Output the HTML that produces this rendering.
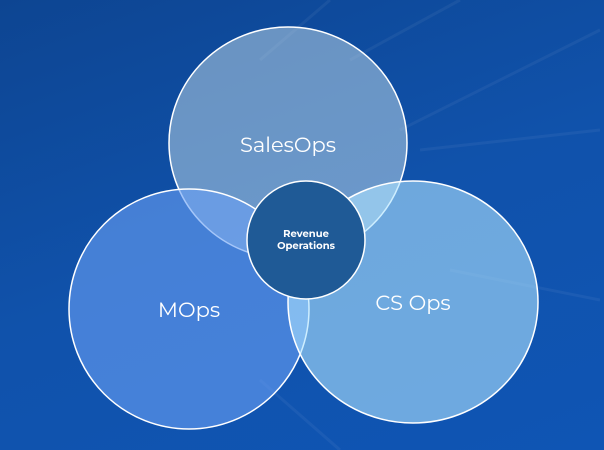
<!DOCTYPE html>
<html><head><style>
html,body{margin:0;padding:0;width:604px;height:450px;overflow:hidden}
body{background:linear-gradient(160deg,#0d4592 0%,#1052ab 50%,#0f55b4 100%)}
</style></head><body>
<svg width="604" height="450" xmlns="http://www.w3.org/2000/svg" style="position:absolute;left:0;top:0">
<g stroke="#ffffff" stroke-opacity="0.05" stroke-width="3">
<line x1="400" y1="130" x2="600" y2="30"/><line x1="420" y1="150" x2="600" y2="130"/>
<line x1="450" y1="270" x2="600" y2="300"/><line x1="260" y1="60" x2="330" y2="0"/>
<line x1="350" y1="60" x2="460" y2="0"/><line x1="260" y1="380" x2="340" y2="450"/>
</g>
<g font-family="Montserrat, 'Liberation Sans', sans-serif" fill="#fff" text-anchor="middle">
<ellipse cx="288" cy="143" rx="119" ry="116" fill="rgb(198,222,234)" fill-opacity="0.5" stroke="#fff" stroke-width="1.5"/>
<circle cx="189" cy="309" r="120" fill="rgb(105,160,245)" fill-opacity="0.6" stroke="#fff" stroke-width="1.5"/>
<ellipse cx="413" cy="302" rx="125" ry="121" fill="rgb(174,227,255)" fill-opacity="0.6" stroke="#fff" stroke-width="1.5"/>
<circle cx="306" cy="240" r="59" fill="#1f5a96" stroke="#fff" stroke-width="1.5"/>
<text x="288" y="152" font-size="21">SalesOps</text>
<text x="189" y="317" font-size="21">MOps</text>
<text x="413" y="310" font-size="21">CS Ops</text>
<text x="306" y="237" font-size="10" font-weight="bold">Revenue</text>
<text x="306" y="249" font-size="10" font-weight="bold">Operations</text>
</g>
</svg>
</body></html>
